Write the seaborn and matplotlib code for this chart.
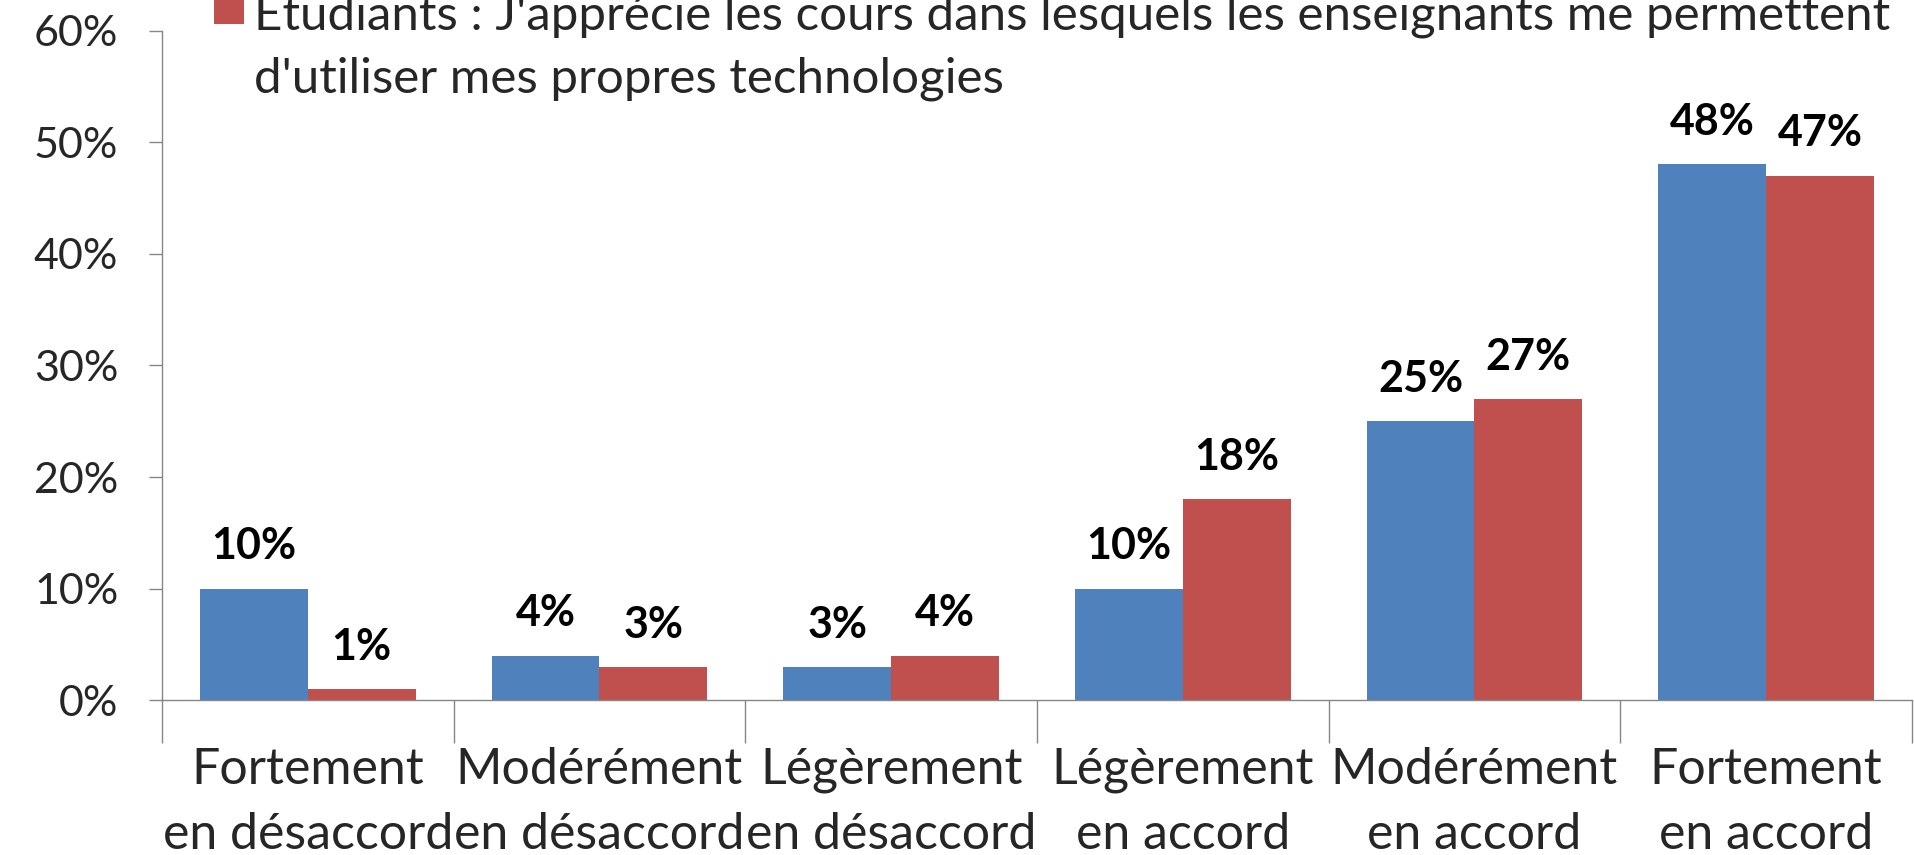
import pandas as pd
import numpy as np
import matplotlib
matplotlib.use("Agg")
import matplotlib.pyplot as plt
from matplotlib.patches import Rectangle
import seaborn as sns

# data
categories = ["Fortement\nen désaccord", "Modérément\nen désaccord", "Légèrement\nen désaccord",
              "Légèrement\nen accord", "Modérément\nen accord", "Fortement\nen accord"]
enseignants = [10, 4, 3, 10, 25, 48]
etudiants = [1, 3, 4, 18, 27, 47]
serie_bleue = "Enseignants"
serie_rouge = "Étudiants : J'apprécie les cours dans lesquels les enseignants me permettent\nd'utiliser mes propres technologies"
yticks = [0, 10, 20, 30, 40, 50, 60]

blue = "#4F81BD"
red = "#C0504D"
grey = "#868686"

df = pd.DataFrame({
    "categorie": categories * 2,
    "valeur": enseignants + etudiants,
    "serie": [serie_bleue] * len(categories) + [serie_rouge] * len(categories),
})

sns.set_style("white")
plt.rcParams["font.family"] = ["Lato", "DejaVu Sans"]
fs = 31      # ticks on y, bar labels
fs_big = 36  # category labels
fs_leg = 35.5

fig = plt.figure(figsize=(19.15, 8.55), dpi=100)
ax = fig.add_axes([0.0846, 0.181, 0.9138, 0.7833])

sns.barplot(data=df, x="categorie", y="valeur", hue="serie", palette=[blue, red],
            width=0.74, saturation=1, linewidth=0, legend=False, ax=ax)

for cont in ax.containers:
    vals = cont.datavalues
    ax.bar_label(cont, labels=[f"{v:g}%" for v in vals], padding=16,
                 fontsize=fs, fontweight="bold", color="black")

ax.set_xlim(-0.5, len(categories) - 0.5)
ax.set_ylim(0, 60)
ax.set_yticks(yticks)
ax.set_yticklabels([f"{t}%" for t in yticks])
ax.set_xlabel("")
ax.set_ylabel("")

ax.set_xticks(np.arange(-0.5, len(categories)), minor=True)
ax.tick_params(axis="x", which="major", length=0, pad=34, labelsize=fs_big)
ax.tick_params(axis="x", which="minor", length=31, width=1, color=grey, direction="out", bottom=True)
ax.tick_params(axis="y", which="major", length=9.5, width=1, color=grey, direction="out",
               left=True, pad=22, labelsize=fs)
for lab in ax.get_xticklabels():
    lab.set_linespacing(1.5)

for s in ["top", "right"]:
    ax.spines[s].set_visible(False)
for s in ["left", "bottom"]:
    ax.spines[s].set_color(grey)
    ax.spines[s].set_linewidth(1)

# legend (only the red entry is visible, the rest falls off the top of the picture)
fig.patches.append(Rectangle((214 / 1915, 1 - 24 / 855), 30 / 1915, 30 / 855,
                             transform=fig.transFigure, facecolor=red, edgecolor="none"))
fig.text(254 / 1915, 1 - 43 / 855, serie_rouge, fontsize=fs_leg, va="center",
         ha="left", linespacing=1.52)

fig.savefig("out.png", dpi=100)
